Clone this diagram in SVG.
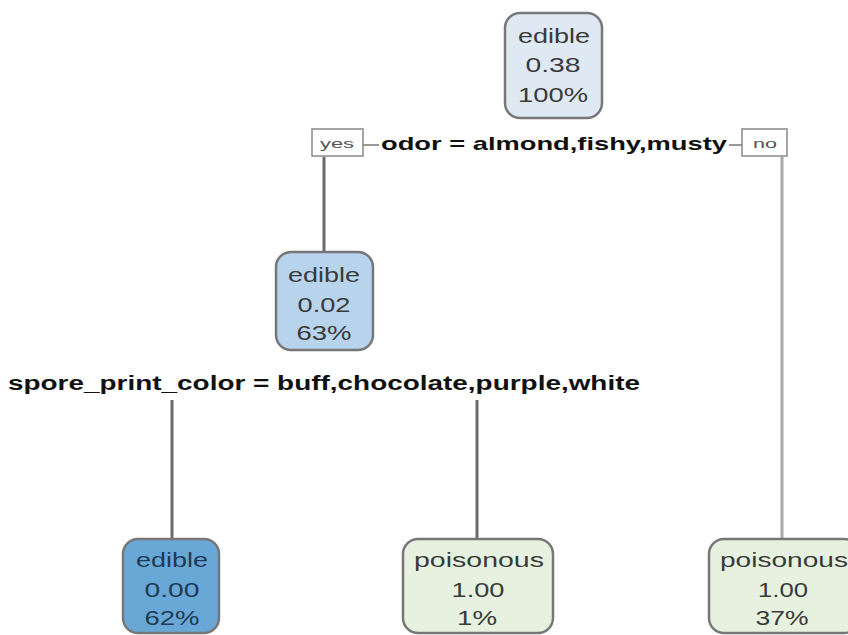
<svg xmlns="http://www.w3.org/2000/svg" width="848" height="635" viewBox="0 0 848 635">
<style>
.nt{font-family:"Liberation Sans",Arial,sans-serif;font-size:21px;fill:#3a3a3a;text-anchor:middle}
.st{font-family:"Liberation Sans",Arial,sans-serif;font-weight:bold;fill:#111}
.yn{font-family:"Liberation Sans",Arial,sans-serif;font-size:13px;fill:#555;text-anchor:middle}
.box{stroke:#777;stroke-width:2.5}
.e{stroke:#6b6b6b;stroke-width:3;fill:none}
.e2{stroke:#aaa;stroke-width:3;fill:none}
</style>
<rect width="848" height="635" fill="#fff"/>
<g id="edges">
<line class="e" x1="324" y1="157" x2="324" y2="252"/>
<line class="e2" x1="782" y1="157" x2="782" y2="540"/>
<line class="e" x1="172" y1="400" x2="172" y2="540"/>
<line class="e" x1="477" y1="400" x2="477" y2="540"/>
<line x1="363" y1="145" x2="379" y2="145" stroke="#777" stroke-width="1.5"/>
<line x1="729" y1="145" x2="742" y2="145" stroke="#777" stroke-width="1.5"/>
</g>
<g id="n1">
<rect class="box" x="505" y="13" width="97" height="105" rx="15" fill="#dfe9f4"/>
<text class="nt" x="554" y="43" textLength="72" lengthAdjust="spacingAndGlyphs">edible</text>
<text class="nt" x="553" y="72" textLength="55" lengthAdjust="spacingAndGlyphs">0.38</text>
<text class="nt" x="553" y="102" textLength="70" lengthAdjust="spacingAndGlyphs">100%</text>
</g>
<g id="split1">
<rect x="312" y="129" width="51" height="27" fill="#fff" stroke="#888" stroke-width="1.5"/>
<text class="yn" x="337" y="148" textLength="34" lengthAdjust="spacingAndGlyphs">yes</text>
<text class="st" x="381" y="150" font-size="18.5" textLength="346" lengthAdjust="spacingAndGlyphs">odor = almond,fishy,musty</text>
<rect x="742" y="129" width="45" height="27" fill="#fff" stroke="#888" stroke-width="1.5"/>
<text class="yn" x="765" y="148" textLength="24" lengthAdjust="spacingAndGlyphs">no</text>
</g>
<g id="n2">
<rect class="box" x="276" y="252" width="97" height="98" rx="15" fill="#b7d4ec"/>
<text class="nt" x="324" y="282" textLength="72" lengthAdjust="spacingAndGlyphs">edible</text>
<text class="nt" x="324" y="312" textLength="53" lengthAdjust="spacingAndGlyphs">0.02</text>
<text class="nt" x="324" y="340" textLength="55" lengthAdjust="spacingAndGlyphs">63%</text>
</g>
<g id="split2">
<text class="st" x="8" y="390" font-size="20" textLength="632" lengthAdjust="spacingAndGlyphs">spore_print_color = buff,chocolate,purple,white</text>
</g>
<g id="n3">
<rect class="box" x="123" y="539" width="96" height="94" rx="15" fill="#69a8d6" stroke="#4b7495"/>
<text class="nt" x="172" y="567" textLength="72" lengthAdjust="spacingAndGlyphs" fill="#1e3a55" style="fill:#1e3a55">edible</text>
<text class="nt" x="172" y="597" textLength="55" lengthAdjust="spacingAndGlyphs" style="fill:#1e3a55">0.00</text>
<text class="nt" x="172" y="625" textLength="55" lengthAdjust="spacingAndGlyphs" style="fill:#1e3a55">62%</text>
</g>
<g id="n4">
<rect class="box" x="403" y="539" width="150" height="94" rx="15" fill="#e6f2df"/>
<text class="nt" x="479" y="567" textLength="130" lengthAdjust="spacingAndGlyphs">poisonous</text>
<text class="nt" x="478" y="597" textLength="53" lengthAdjust="spacingAndGlyphs">1.00</text>
<text class="nt" x="477" y="625" textLength="40" lengthAdjust="spacingAndGlyphs">1%</text>
</g>
<g id="n5">
<rect class="box" x="709" y="539" width="150" height="94" rx="15" fill="#e6f2df"/>
<text class="nt" x="784" y="567" textLength="128" lengthAdjust="spacingAndGlyphs">poisonous</text>
<text class="nt" x="783" y="597" textLength="50" lengthAdjust="spacingAndGlyphs">1.00</text>
<text class="nt" x="782" y="625" textLength="53" lengthAdjust="spacingAndGlyphs">37%</text>
</g>
</svg>
